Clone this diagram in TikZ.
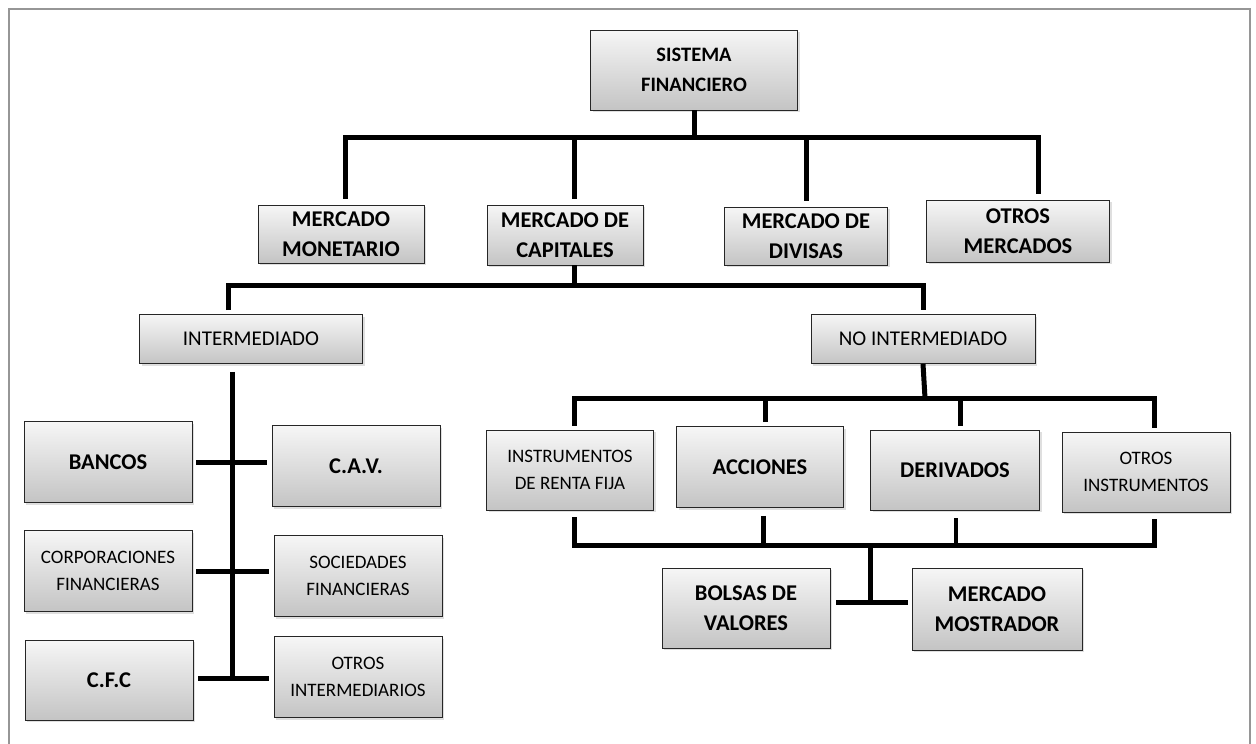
\documentclass[tikz,border=0pt]{standalone}
\usepackage{fontspec}
\setmainfont{Carlito}
\usetikzlibrary{positioning,shadows}
\definecolor{BoxTop}{RGB}{246,246,246}
\definecolor{BoxBottom}{RGB}{196,196,196}
\definecolor{FrameGray}{RGB}{150,150,150}

\tikzset{
  box/.style={draw=black!85, line width=0.9pt, top color=BoxTop, bottom color=BoxBottom,
    drop shadow={opacity=0.25, shadow xshift=2pt, shadow yshift=-2pt},
    align=center, inner sep=2pt},
  bigtxt/.style={font=\bfseries\fontsize{22.5}{30}\selectfont},
  midtxt/.style={font=\fontsize{21}{30}\selectfont},
  smalltxt/.style={font=\fontsize{19}{27}\selectfont},
  conn/.style={line width=5pt, black}
}

\begin{document}
\begin{tikzpicture}[x=1pt, y=-1pt]
  \useasboundingbox (0,0) rectangle (1256,744);
  \fill[white] (0,0) rectangle (1256,744);
  \draw[FrameGray, line width=2.5pt] (9,746) -- (9,9) -- (1250,9) -- (1250,746);

  % top level
  \node[box, midtxt, font=\bfseries\fontsize{20.5}{30}\selectfont, minimum width=207pt, minimum height=80pt] (sf) at (694,70)
    {SISTEMA\\FINANCIERO};
  \node[box, bigtxt, minimum width=166pt, minimum height=58pt] (mm) at (341,234)
    {MERCADO\\MONETARIO};
  \node[box, bigtxt, minimum width=156pt, minimum height=60pt] (mc) at (565,235)
    {MERCADO DE\\CAPITALES};
  \node[box, bigtxt, minimum width=163pt, minimum height=58pt] (md) at (806,236)
    {MERCADO DE\\DIVISAS};
  \node[box, bigtxt, minimum width=183pt, minimum height=62pt] (om) at (1018,231)
    {OTROS\\MERCADOS};

  % second level
  \node[box, midtxt, minimum width=223pt, minimum height=49pt] (int) at (251,339)
    {INTERMEDIADO};
  \node[box, midtxt, minimum width=224pt, minimum height=49pt] (nint) at (923,339)
    {NO INTERMEDIADO};

  % intermediado
  \node[box, bigtxt, minimum width=168pt, minimum height=81pt] (ban) at (108,462) {BANCOS};
  \node[box, bigtxt, minimum width=168pt, minimum height=81pt] (cav) at (356,466) {C.A.V.};
  \node[box, smalltxt, minimum width=168pt, minimum height=81pt] (corp) at (108,571)
    {CORPORACIONES\\FINANCIERAS};
  \node[box, smalltxt, minimum width=168pt, minimum height=81pt] (soc) at (358,576)
    {SOCIEDADES\\FINANCIERAS};
  \node[box, bigtxt, minimum width=168pt, minimum height=80pt] (cfc) at (109,680) {C.F.C};
  \node[box, smalltxt, minimum width=168pt, minimum height=81pt] (oint) at (358,677)
    {OTROS\\INTERMEDIARIOS};

  % no intermediado
  \node[box, smalltxt, minimum width=167pt, minimum height=80pt] (irf) at (570,470)
    {INSTRUMENTOS\\DE RENTA FIJA};
  \node[box, bigtxt, minimum width=167pt, minimum height=81pt] (acc) at (760,467) {ACCIONES};
  \node[box, bigtxt, minimum width=169pt, minimum height=80pt] (der) at (955,470) {DERIVADOS};
  \node[box, smalltxt, minimum width=168pt, minimum height=80pt] (oins) at (1146,472)
    {OTROS\\INSTRUMENTOS};
  \node[box, bigtxt, minimum width=168pt, minimum height=80pt] (bol) at (746,608)
    {BOLSAS DE\\VALORES};
  \node[box, bigtxt, minimum width=170pt, minimum height=82pt] (mmos) at (997,609)
    {MERCADO\\MOSTRADOR};

  % connectors
  \coordinate (b1) at (694,137);
  \draw[conn] (sf.south) -- (b1);
  \draw[conn] ([xshift=4pt, yshift=6pt]mm.north) |- (b1) -| ([xshift=20pt, yshift=6pt]om.north);
  \draw[conn] ([xshift=9pt, yshift=6pt]mc.north) -- ([xshift=9pt]mc.north |- b1);
  \draw[conn] ([yshift=6pt]md.north) -- (md.north |- b1);

  \coordinate (b2) at (574,285);
  \draw[conn] ([xshift=9pt]mc.south) -- (b2);
  \draw[conn] ([xshift=-23pt, yshift=4pt]int.north) |- (b2) -| ([yshift=4pt]nint.north);

  \coordinate (sp) at (232,678);
  \draw[conn] ([xshift=-19pt, yshift=-8pt]int.south) -- (sp);
  \draw[conn] ([xshift=4pt]ban.east) -- ([xshift=-5pt]cav.west |- ban.east);
  \draw[conn] ([xshift=4pt]corp.east) -- ([xshift=-5pt]soc.west |- corp.east);
  \draw[conn] ([xshift=5pt]cfc.east |- sp) -- ([xshift=-5pt]oint.west |- sp);

  \coordinate (b3) at (925,398);
  \draw[conn] (nint.south) -- (b3);
  \draw[conn] ([xshift=4pt, yshift=4pt]irf.north) |- (b3) -| ([xshift=8pt, yshift=4pt]oins.north);
  \draw[conn] ([xshift=5pt, yshift=4pt]acc.north) -- ([xshift=5pt]acc.north |- b3);
  \draw[conn] ([xshift=5pt, yshift=4pt]der.north) -- ([xshift=5pt]der.north |- b3);

  \coordinate (b4) at (870,545);
  \draw[conn] ([xshift=4pt, yshift=-7pt]irf.south) |- (b4) -| ([xshift=8pt, yshift=-7pt]oins.south);
  \draw[conn] ([xshift=3pt, yshift=-8pt]acc.south) -- ([xshift=3pt]acc.south |- b4);
  \draw[conn, line width=3.5pt] ([xshift=1pt, yshift=-8pt]der.south) -- ([xshift=1pt]der.south |- b4);
  \coordinate (b5) at (870,602);
  \draw[conn] (b4) -- (b5);
  \draw[conn] ([xshift=6pt]bol.east |- b5) -- ([xshift=-4pt]mmos.west |- b5);
\end{tikzpicture}
\end{document}
